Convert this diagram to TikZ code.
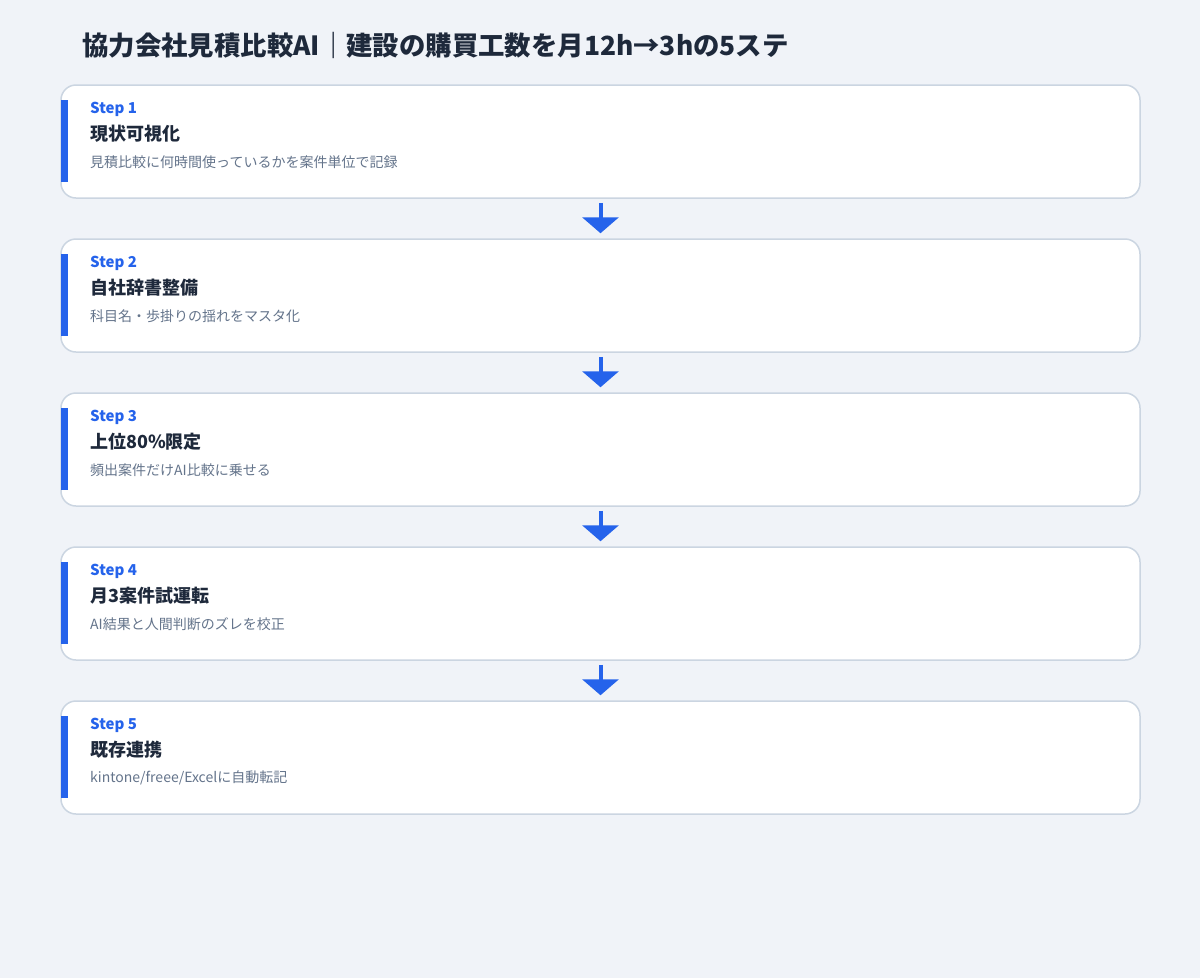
\documentclass[tikz,border=0pt]{standalone}
\usepackage{fontspec}
\setmainfont{Noto Sans CJK JP}
\usetikzlibrary{positioning}
\usetikzlibrary{arrows.meta}
\definecolor{bgColor}{HTML}{F0F3F8}
\definecolor{borderColor}{HTML}{CBD5E1}
\definecolor{accentColor}{HTML}{2563EB}
\definecolor{titleColor}{HTML}{1E293B}
\definecolor{descColor}{HTML}{64748B}

\begin{document}
\begin{tikzpicture}[x=1pt,y=-1pt]

          \tikzstyle{stepBox} = [draw=borderColor, line width=1.5pt, fill=white, rounded corners=15pt, minimum width=1079pt, minimum height=113pt, inner sep=0pt];
          \tikzstyle{accentBar} = [fill=accentColor, minimum width=7pt, minimum height=82pt, inner sep=0pt, anchor=west];
          \tikzstyle{stepLabel} = [accentColor, anchor=west, inner sep=0pt, font=\fontsize{15}{18}\selectfont\bfseries];
          \tikzstyle{stepTitle} = [titleColor, anchor=west, inner sep=0pt, font=\fontsize{18}{21}\selectfont\bfseries];
          \tikzstyle{stepDesc} = [descColor, anchor=west, inner sep=0pt, font=\fontsize{14}{17}\selectfont];
          \tikzstyle{flowArrow} = [accentColor, line width=4pt, -{Triangle[width=36pt,length=16pt]}, shorten <=4pt, shorten >=5pt];

          \fill[bgColor] (0,0) rectangle (1200,978);

          \node[titleColor, anchor=west, inner sep=0pt, font=\fontsize{26.4}{30}\selectfont\bfseries] (title) at (82,45) {協力会社見積比較AI｜建設の購買工数を月12h→3hの5ステ};

          \node[stepBox] (box1) at (600.5,141.5) {};
          \node[stepBox] (box2) at (600.5,295.5) {};
          \node[stepBox] (box3) at (600.5,449.5) {};
          \node[stepBox] (box4) at (600.5,603.5) {};
          \node[stepBox] (box5) at (600.5,757.5) {};

          \node[accentBar] (bar1) at (60.5,141) {};
          \node[accentBar] (bar2) at (60.5,295) {};
          \node[accentBar] (bar3) at (60.5,449) {};
          \node[accentBar] (bar4) at (60.5,603) {};
          \node[accentBar] (bar5) at (60.5,757) {};

          \node[stepLabel] (label1) at (90,109) {Step 1};
          \node[stepTitle] (head1) at (90,134) {現状可視化};
          \node[stepDesc] (desc1) at (90,162) {見積比較に何時間使っているかを案件単位で記録};

          \node[stepLabel] (label2) at (90,263) {Step 2};
          \node[stepTitle] (head2) at (90,288) {自社辞書整備};
          \node[stepDesc] (desc2) at (90,316) {科目名・歩掛りの揺れをマスタ化};

          \node[stepLabel] (label3) at (90,417) {Step 3};
          \node[stepTitle] (head3) at (90,442) {上位80\%限定};
          \node[stepDesc] (desc3) at (90,470) {頻出案件だけAI比較に乗せる};

          \node[stepLabel] (label4) at (90,571) {Step 4};
          \node[stepTitle] (head4) at (90,596) {月3案件試運転};
          \node[stepDesc] (desc4) at (90,624) {AI結果と人間判断のズレを校正};

          \node[stepLabel] (label5) at (90,725) {Step 5};
          \node[stepTitle] (head5) at (90,750) {既存連携};
          \node[stepDesc] (desc5) at (90,778) {kintone/freee/Excelに自動転記};

          \draw[flowArrow] (box1) -- (box2);
          \draw[flowArrow] (box2) -- (box3);
          \draw[flowArrow] (box3) -- (box4);
          \draw[flowArrow] (box4) -- (box5);
        \end{tikzpicture}
\end{document}
